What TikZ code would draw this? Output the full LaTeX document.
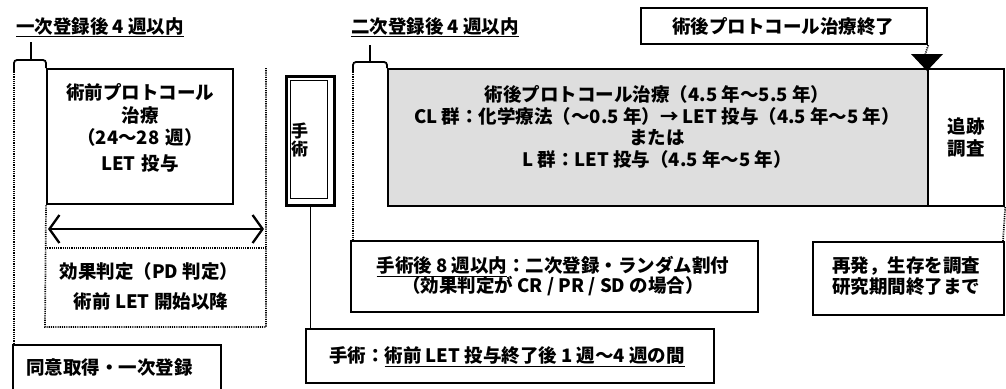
\documentclass[tikz,border=0pt]{standalone}
\usepackage{fontspec}
\setmainfont{Noto Sans CJK JP}
\usetikzlibrary{arrows.meta}
\tikzset{
  box/.style={draw, line width=2.2pt, inner sep=0pt, anchor=north west},
  dotln/.style={line width=1.7pt, dash pattern=on 1.1pt off 1.1pt},
  txt/.style={font=\fontsize{18.5}{21.5}\selectfont\bfseries, inner sep=0pt, align=center},
  brk/.style={line width=1.8pt, rounded corners=3pt},
}
\begin{document}
\begin{tikzpicture}[x=1pt,y=-1pt]
\useasboundingbox (0,0) rectangle (1006,388);

% --- first registration bracket
\node[txt] (t1) at (100,27) {\underline{一次登録後 4 週以内}};
\coordinate (b1l) at (14,72);
\coordinate (b1r) at (46,68);
\draw[brk] (b1l) -- (14,60) -- (46,60) -- (b1r);
\draw[line width=1.8pt] (31,60) -- (31,42);

% --- pre-operative box
\node[box, minimum width=186pt, minimum height=135pt] (preop) at (46,68) {};
\node[txt, text width=180pt] (preopt) at (140,128) {術前プロトコール\\[1pt]治療\\[1pt]（24～28 週）\\[4pt]LET 投与};

% dotted frames
\draw[dotln] (b1l) -- (14,343);
\coordinate (d1) at (266,68);
\coordinate (d2) at (266,327);
\coordinate (d3) at (45,327);
\draw[dotln] (d1) -- (d2) -- (d3) -- (preop.south west);
\draw[dotln] (45,248) -- (266,248);
\coordinate (a1) at (48,229);
\coordinate (a2) at (264,229);
\draw[line width=2.3pt, {Straight Barb[length=10pt,width=28pt]}-{Straight Barb[length=10pt,width=28pt]}] (a1) -- (a2);
\node[txt] (pd) at (149,271) {効果判定（PD 判定）};
\node[txt] (pd2) at (151,301) {術前 LET 開始以降};

% consent box
\node[box, minimum width=208pt, minimum height=60pt] (consent) at (12,344) {};
\node[txt, anchor=west] (consentt) at (26,367) {同意取得・一次登録};

% --- surgery
\node[box, line width=3pt, minimum width=48pt, minimum height=129pt] (surg) at (285,75) {};
\node[draw, line width=1pt, minimum width=37pt, minimum height=118pt, anchor=north west] (surgin) at (290,80) {};
\node[txt, anchor=west, font=\fontsize{17}{18}\selectfont\bfseries] (surgt) at (291,140) {手\\術};
\node[box, minimum width=408pt, minimum height=54pt] (surgnote) at (305,328) {};
\draw[line width=1.8pt] (surg.south) -- (surg.south |- surgnote.north);
\node[txt] (surgnotet) at (507,357) {手術：\underline{術前 LET 投与終了後 1 週～4 週の間}};

% --- second registration bracket
\node[txt] (t2) at (435,27) {\underline{二次登録後 4 週以内}};
\coordinate (b2l) at (353,72);
\coordinate (b2r) at (387,68);
\draw[brk] (b2l) -- (353,62) -- (387,62) -- (b2r);
\draw[line width=1.8pt] (370,62) -- (370,45);
\draw[dotln] (b2l) -- (353,240);

% --- main post-operative box
\node[box, fill=gray!26, minimum width=540pt, minimum height=137pt] (post) at (387,68) {};
\node[txt] (postt) at (657,127) {術後プロトコール治療（4.5 年～5.5 年）\\CL 群：化学療法（～0.5 年）→ LET 投与（4.5 年～5 年）\\または\\L 群：LET 投与（4.5 年～5 年）};
\node[box, minimum width=76pt, minimum height=137pt] (follow) at (927,68) {};
\node[txt] (followt) at (follow.center) {追跡\\調査};

% end-of-treatment marker
\node[box, minimum width=286pt, minimum height=36pt] (endt) at (640,7) {};
\node[txt] (endtt) at (783,26) {術後プロトコール治療終了};
\draw[dotln] (endt.south east) -- (925,55);
\coordinate (tip) at (927,71);
\fill (911,54) -- (943,54) -- (tip) -- cycle;

% randomisation box
\draw[dotln] (follow.south east) -- (1003,241);
\node[box, minimum width=407pt, minimum height=71pt] (rand) at (350,240) {};
\node[txt] (randt) at (553,276) {\underline{手術後 8 週以内}：二次登録・ランダム割付\\[-2pt]（効果判定が CR / PR / SD の場合）};

% follow-up box
\node[box, minimum width=191pt, minimum height=73pt] (relapse) at (812,241) {};
\node[txt] (relapset) at (906,276) {再発，生存を調査\\[-1pt]研究期間終了まで};
\end{tikzpicture}
\end{document}
